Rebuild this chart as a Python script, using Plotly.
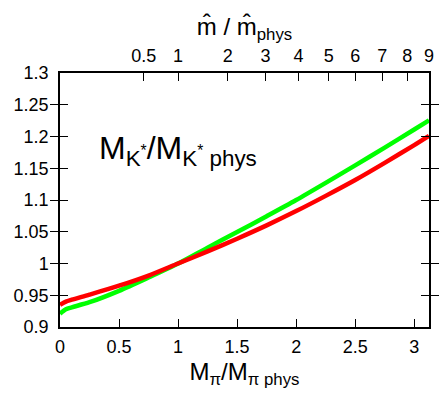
import plotly.graph_objects as go

# M_pi / M_pi,phys sample points
mpi_ratio = [0.0, 0.05, 0.1, 0.25, 0.5, 0.75, 1.0, 1.25, 1.5, 1.75, 2.0, 2.25, 2.5, 2.75, 3.0, 3.125]

# M_K* / M_K*,phys for the two fits
mk_red = [0.935, 0.940, 0.943, 0.951, 0.965, 0.981, 1.000, 1.019, 1.039, 1.060, 1.0825, 1.1065, 1.1315, 1.1585, 1.1865, 1.201]
mk_green = [0.921, 0.928, 0.931, 0.939, 0.957, 0.978, 1.000, 1.025, 1.0495, 1.0745, 1.100, 1.127, 1.1545, 1.1825, 1.211, 1.2255]

# top axis: quark mass ratio m / m_phys, placed at the corresponding pion mass ratio
mhat_pos = [0.71, 1.0, 1.42, 1.74, 2.02, 2.275, 2.50, 2.73, 2.94, 3.125]
mhat_labels = ["0.5", "1", "2", "3", "4", "5", "6", "7", "8", "9"]

y_ticks = [0.9, 0.95, 1.0, 1.05, 1.1, 1.15, 1.2, 1.25, 1.3]
y_labels = ["0.9", "0.95", "1", "1.05", "1.1", "1.15", "1.2", "1.25", "1.3"]
x_ticks = [0, 0.5, 1, 1.5, 2, 2.5, 3]
x_labels = ["0", "0.5", "1", "1.5", "2", "2.5", "3"]

FONT = "Liberation Sans, Arial, sans-serif"
X_RANGE = [0, 3.125]
TICK_FONT = 18

fig = go.Figure()
fig.add_trace(go.Scatter(x=mpi_ratio, y=mk_green, mode="lines",
                         line=dict(color="#00ff00", width=4.5, shape="spline", smoothing=0.8),
                         showlegend=False, hoverinfo="skip"))
fig.add_trace(go.Scatter(x=mpi_ratio, y=mk_red, mode="lines",
                         line=dict(color="#ff0000", width=4.5, shape="spline", smoothing=0.8),
                         showlegend=False, hoverinfo="skip"))
# invisible trace anchoring the top axis
fig.add_trace(go.Scatter(x=[X_RANGE[0], X_RANGE[1]], y=[1, 1], xaxis="x2", mode="lines",
                         line=dict(width=0), opacity=0, showlegend=False, hoverinfo="skip"))

fig.update_layout(
    width=440, height=394,
    margin=dict(l=60, r=6, t=73, b=67),
    paper_bgcolor="white", plot_bgcolor="white",
    font=dict(family=FONT, color="black", size=TICK_FONT),
    xaxis=dict(
        range=X_RANGE, tickvals=x_ticks, ticktext=x_labels,
        ticks="inside", ticklen=8, tickwidth=1.2, tickcolor="black",
        showline=True, linecolor="black", linewidth=1.5, mirror=True,
        showgrid=False, zeroline=False,
        tickfont=dict(size=TICK_FONT), ticklabelstandoff=3,
        title=dict(text="M<sub>π</sub>/M<sub>π phys</sub>", font=dict(size=24), standoff=7),
    ),
    xaxis2=dict(
        range=X_RANGE, overlaying="x", side="top",
        tickvals=mhat_pos, ticktext=mhat_labels,
        ticks="inside", ticklen=8, tickwidth=1.2, tickcolor="black",
        showline=False, showgrid=False, zeroline=False,
        tickfont=dict(size=TICK_FONT), ticklabelstandoff=6,
        title=dict(text="m̂ / m̂<sub>phys</sub>", font=dict(size=24), standoff=4),
    ),
    yaxis=dict(
        range=[0.9, 1.3], tickvals=y_ticks, ticktext=y_labels,
        ticks="inside", ticklen=8, tickwidth=1.2, tickcolor="black",
        showline=True, linecolor="black", linewidth=1.5, mirror="allticks",
        showgrid=False, zeroline=False,
        tickfont=dict(size=TICK_FONT), ticklabelstandoff=6,
    ),
    annotations=[dict(
        x=0.31, y=1.178, xref="x", yref="y", xanchor="left", yanchor="middle",
        text="M<sub>K<sup>*</sup></sub>/M<sub>K<sup>*</sup> phys</sub>",
        showarrow=False, font=dict(size=32, family=FONT),
    )],
)

fig.write_html("out.html")
